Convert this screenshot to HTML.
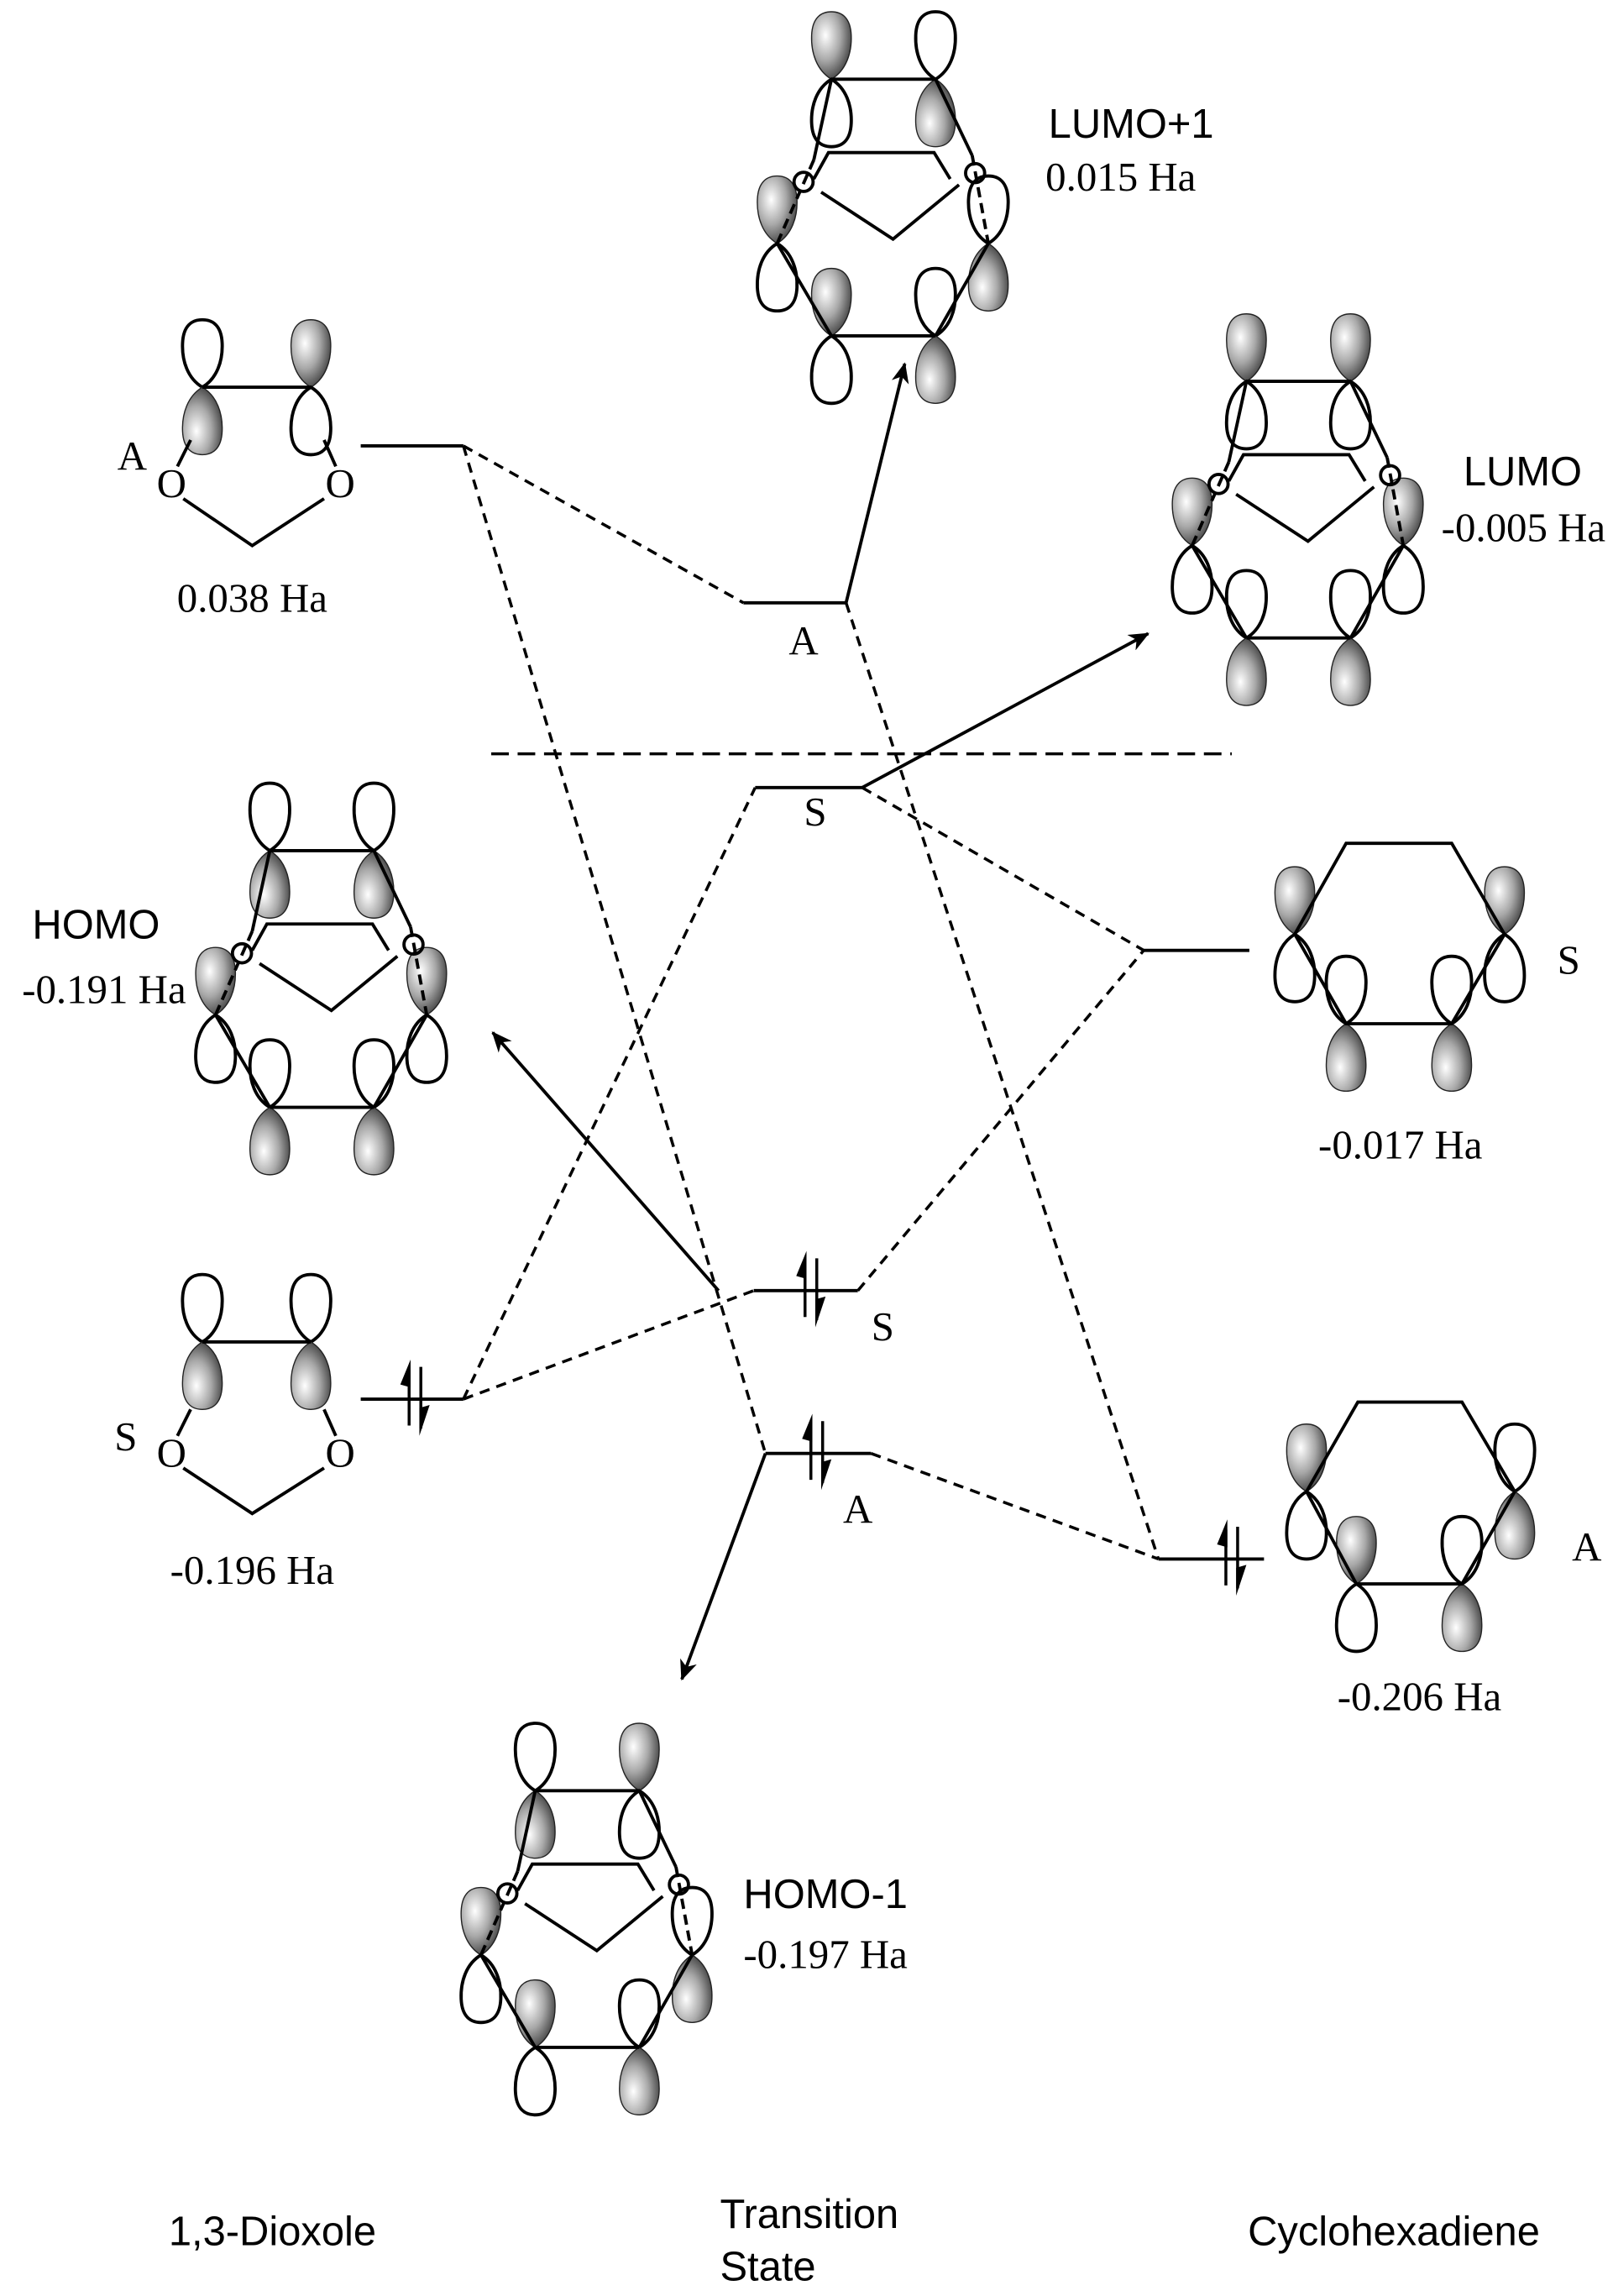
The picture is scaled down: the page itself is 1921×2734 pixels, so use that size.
<!DOCTYPE html>
<html><head><meta charset="utf-8"><style>
html,body{margin:0;padding:0;background:#fff;}
svg{display:block;}
.s{font-family:"Liberation Serif",serif;font-size:28px;fill:#000;}
.a{font-family:"Liberation Sans",sans-serif;font-size:28px;fill:#000;}
</style></head><body>
<svg width="1921" height="2734" viewBox="0 0 1100 1565.5" xmlns="http://www.w3.org/2000/svg">
<defs>
<radialGradient id="gg" cx="0.35" cy="0.35" r="0.75">
<stop offset="0" stop-color="#ffffff"/><stop offset="0.5" stop-color="#a8a8a8"/><stop offset="1" stop-color="#303030"/>
</radialGradient>
<path id="lp" d="M0,0 C-10,-6 -14,-18 -13.5,-30 C-13,-42 -7,-46 0,-46 C7,-46 13,-42 13.5,-30 C14,-18 10,-6 0,0Z"/>
<g id="uw"><use href="#lp" fill="#fff" stroke="#000" stroke-width="2.2"/></g>
<g id="ug"><use href="#lp" fill="url(#gg)" stroke="#222" stroke-width="0.8"/></g>
<g id="gw"><use href="#ug"/><use href="#uw" transform="scale(1,-1)"/></g>
<g id="wg"><use href="#uw"/><use href="#ug" transform="scale(1,-1)"/></g>
<g id="tsb" fill="none" stroke="#000" stroke-width="2.2">
<line x1="0" y1="0" x2="71" y2="0"/><line x1="0" y1="175" x2="71" y2="175"/>
<line x1="-37" y1="112" x2="0" y2="175"/><line x1="107" y1="112" x2="71" y2="175"/>
<line x1="0" y1="0" x2="-12" y2="55"/><line x1="-12" y1="55" x2="-37" y2="112" stroke-dasharray="7,4"/>
<line x1="71" y1="0" x2="96" y2="52"/><line x1="96" y1="52" x2="107" y2="112" stroke-dasharray="7,4"/>
<path d="M-12,68 L-2,50 L70,50 L81,68 M-7,77 L42,109 L87,72"/>
<circle cx="-19" cy="70" r="6.5"/><circle cx="98" cy="64" r="6.5"/>
</g>
<g id="ep">
<line x1="-4" y1="18" x2="-4" y2="-20" stroke="#000" stroke-width="2"/>
<polygon points="-3,-27 -3,-8 -10,-10" fill="#000"/>
<line x1="4" y1="-22" x2="4" y2="20" stroke="#000" stroke-width="2"/>
<polygon points="3,25 3,6 10,4" fill="#000"/>
</g>
<marker id="ah" markerWidth="14" markerHeight="12" refX="13" refY="6" orient="auto" markerUnits="userSpaceOnUse">
<path d="M0,0 L14,6 L0,12 L4,6Z" fill="#000"/>
</marker>
</defs>

<g transform="translate(567,54)">
<use href="#gw"/><use href="#wg" x="71"/><use href="#gw" x="-37" y="112"/><use href="#wg" x="107" y="112"/><use href="#gw" y="175"/><use href="#wg" x="71" y="175"/>
<use href="#tsb"/></g>
<g transform="translate(850,260)">
<use href="#gw"/><use href="#gw" x="71"/><use href="#gw" x="-37" y="112"/><use href="#gw" x="107" y="112"/><use href="#wg" y="175"/><use href="#wg" x="71" y="175"/>
<use href="#tsb"/></g>
<g transform="translate(184,580)">
<use href="#wg"/><use href="#wg" x="71"/><use href="#gw" x="-37" y="112"/><use href="#gw" x="107" y="112"/><use href="#wg" y="175"/><use href="#wg" x="71" y="175"/>
<use href="#tsb"/></g>
<g transform="translate(365,1221)">
<use href="#wg"/><use href="#gw" x="71"/><use href="#gw" x="-37" y="112"/><use href="#wg" x="107" y="112"/><use href="#gw" y="175"/><use href="#wg" x="71" y="175"/>
<use href="#tsb"/></g>

<use href="#wg" x="138" y="264"/><use href="#gw" x="212" y="264"/>
<g fill="none" stroke="#000" stroke-width="2.2">
<line x1="138" y1="264" x2="212" y2="264"/>
<line x1="121" y1="318" x2="130" y2="300"/><line x1="229" y1="318" x2="221" y2="300"/>
<path d="M125,340 L172,372 L221,340"/>
</g>
<text class="s" x="117" y="339" text-anchor="middle" font-size="24">O</text>
<text class="s" x="232" y="339" text-anchor="middle" font-size="24">O</text>
<text class="s" x="80" y="320">A</text>
<text class="s" x="172" y="417" text-anchor="middle">0.038 Ha</text>

<use href="#wg" x="138" y="915"/><use href="#wg" x="212" y="915"/>
<g fill="none" stroke="#000" stroke-width="2.2">
<line x1="138" y1="915" x2="212" y2="915"/>
<line x1="121" y1="979" x2="130" y2="961"/><line x1="229" y1="979" x2="221" y2="961"/>
<path d="M125,1001 L172,1032 L221,1001"/>
</g>
<text class="s" x="117" y="1000" text-anchor="middle" font-size="24">O</text>
<text class="s" x="232" y="1000" text-anchor="middle" font-size="24">O</text>
<text class="s" x="78" y="989">S</text>
<text class="s" x="172" y="1080" text-anchor="middle">-0.196 Ha</text>

<use href="#gw" x="883" y="637"/><use href="#gw" x="1026" y="637"/><use href="#wg" x="918" y="698"/><use href="#wg" x="990" y="698"/>
<path d="M883,637 L918,575 L990,575 L1026,637 M883,637 L918,698 L990,698 L1026,637" fill="none" stroke="#000" stroke-width="2.2"/>
<text class="s" x="1062" y="664">S</text>
<text class="s" x="955" y="790" text-anchor="middle">-0.017 Ha</text>

<use href="#gw" x="891" y="1017"/><use href="#wg" x="1033" y="1017"/><use href="#gw" x="925" y="1080"/><use href="#wg" x="997" y="1080"/>
<path d="M891,1017 L926,956 L997,956 L1033,1017 M891,1017 L925,1080 L997,1080 L1033,1017" fill="none" stroke="#000" stroke-width="2.2"/>
<text class="s" x="1072" y="1064">A</text>
<text class="s" x="968" y="1166" text-anchor="middle">-0.206 Ha</text>

<g stroke="#000" stroke-width="2.2" fill="none">
<line x1="246" y1="304" x2="316" y2="304"/>
<line x1="507" y1="411" x2="577" y2="411"/>
<line x1="515" y1="537" x2="588" y2="537"/>
<line x1="780" y1="648" x2="852" y2="648"/>
<line x1="514" y1="880" x2="585" y2="880"/>
<line x1="246" y1="954" x2="316" y2="954"/>
<line x1="522" y1="991" x2="594" y2="991"/>
<line x1="790" y1="1063" x2="862" y2="1063"/>
</g>
<g stroke="#000" stroke-width="2" fill="none" stroke-dasharray="7,5">
<line x1="316" y1="304" x2="507" y2="411"/>
<line x1="316" y1="304" x2="522" y2="991"/>
<line x1="577" y1="411" x2="790" y2="1063"/>
<line x1="316" y1="954" x2="515" y2="537"/>
<line x1="316" y1="954" x2="514" y2="880"/>
<line x1="588" y1="537" x2="780" y2="648"/>
<line x1="585" y1="880" x2="780" y2="648"/>
<line x1="594" y1="991" x2="790" y2="1063"/>
<line x1="335" y1="514" x2="840" y2="514" stroke-dasharray="12,6"/>
</g>
<use href="#ep" x="283" y="954"/>
<use href="#ep" x="553" y="880"/>
<use href="#ep" x="557" y="991"/>
<use href="#ep" x="840" y="1063"/>
<g stroke="#000" stroke-width="2.2" fill="none" marker-end="url(#ah)">
<line x1="577" y1="411" x2="617" y2="248"/>
<line x1="588" y1="537" x2="783" y2="432"/>
<line x1="490" y1="880" x2="336" y2="704"/>
<line x1="522" y1="991" x2="465" y2="1145"/>
</g>
<text class="s" x="548" y="446" text-anchor="middle">A</text>
<text class="s" x="556" y="563" text-anchor="middle">S</text>
<text class="s" x="602" y="914" text-anchor="middle">S</text>
<text class="s" x="585" y="1038" text-anchor="middle">A</text>

<text class="a" x="715" y="94">LUMO+1</text>
<text class="s" x="713" y="130">0.015 Ha</text>
<text class="a" x="998" y="331">LUMO</text>
<text class="s" x="983" y="369">-0.005 Ha</text>
<text class="a" x="22" y="640">HOMO</text>
<text class="s" x="15" y="684">-0.191 Ha</text>
<text class="a" x="507" y="1301">HOMO-1</text>
<text class="s" x="507" y="1342">-0.197 Ha</text>
<text class="a" x="115" y="1531">1,3-Dioxole</text>
<text class="a" x="491" y="1519">Transition</text>
<text class="a" x="491" y="1555">State</text>
<text class="a" x="851" y="1531">Cyclohexadiene</text>
</svg>
</body></html>
